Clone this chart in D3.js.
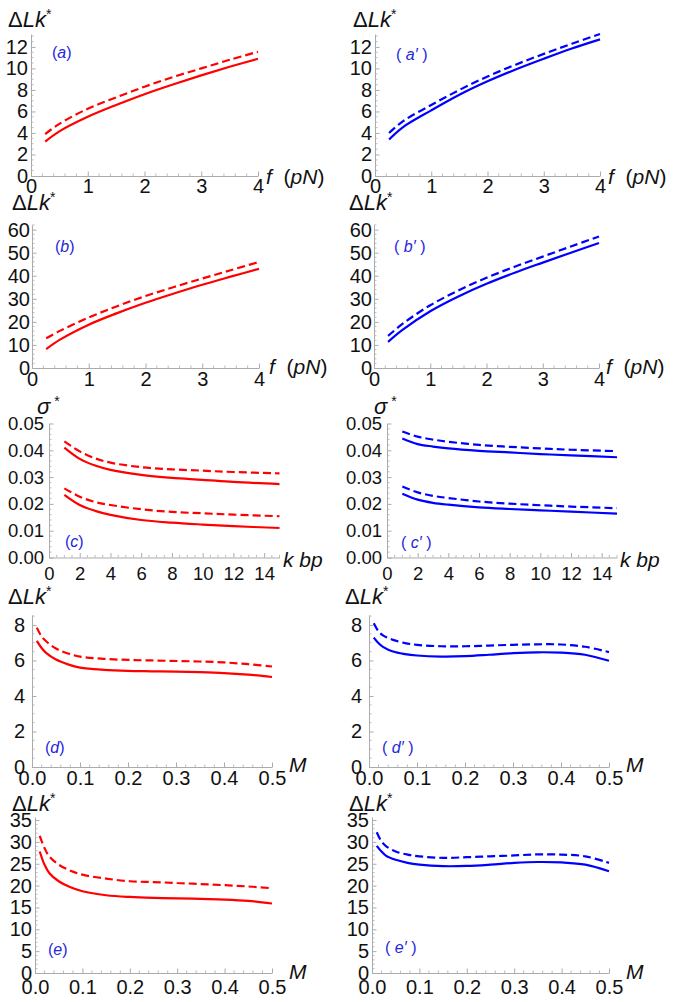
<!DOCTYPE html>
<html><head><meta charset="utf-8">
<script src="https://cdn.jsdelivr.net/npm/d3@7"></script>
<style>
body{margin:0;background:#fff}
text{font-family:"Liberation Sans",Arial,sans-serif}
</style>
</head><body>
<svg id="chart" width="674" height="1002"></svg>
<script>
// ---------- data ----------
const fVals = [0.25, 0.5, 1, 1.5, 2, 2.5, 3, 3.5, 4];
const aSolid  = [3.2, 4.15, 5.5, 6.6, 7.6, 8.5, 9.35, 10.15, 10.9];
const aDashed = [3.9, 4.85, 6.25, 7.3, 8.3, 9.2, 10.0, 10.8, 11.55];
const a2Solid  = [3.4, 4.55, 6.1, 7.55, 8.8, 9.9, 10.9, 11.85, 12.7];
const a2Dashed = [4.0, 5.1, 6.6, 8.0, 9.25, 10.35, 11.35, 12.3, 13.2];
const bSolid  = [8.2, 12.4, 18.8, 23.8, 28.3, 32.3, 36.1, 39.6, 43];
const bDashed = [12.9, 16.2, 21.9, 26.8, 31.2, 35.1, 38.8, 42.4, 46];
const b2Solid  = [11.3, 16.4, 24.6, 31, 36.5, 41.3, 45.7, 50, 54.2];
const b2Dashed = [13.9, 19, 27.2, 33.6, 39.1, 43.9, 48.3, 52.7, 57];

const kVals = [1, 2, 3, 4, 6, 8, 10, 12, 15];
const cUpDashed  = [0.0433, 0.0396, 0.0370, 0.0354, 0.0337, 0.0329, 0.0324, 0.0319, 0.0314];
const cUpSolid   = [0.0410, 0.0368, 0.0343, 0.0327, 0.0308, 0.0297, 0.0290, 0.0282, 0.0274];
const cLoDashed  = [0.0258, 0.0227, 0.0207, 0.0196, 0.0180, 0.0170, 0.0165, 0.0160, 0.0154];
const cLoSolid   = [0.0234, 0.0196, 0.0174, 0.0159, 0.0140, 0.0130, 0.0123, 0.0117, 0.0110];
const c2UpDashed = [0.0470, 0.0451, 0.0440, 0.0432, 0.0420, 0.0413, 0.0407, 0.0402, 0.0397];
const c2UpSolid  = [0.0444, 0.0423, 0.0414, 0.0407, 0.0398, 0.0392, 0.0386, 0.0381, 0.0374];
const c2LoDashed = [0.0265, 0.0243, 0.0230, 0.0222, 0.0209, 0.0201, 0.0195, 0.0190, 0.0184];
const c2LoSolid  = [0.0238, 0.0216, 0.0204, 0.0197, 0.0187, 0.0181, 0.0176, 0.0171, 0.0164];

const mVals = [0.01, 0.02, 0.03, 0.05, 0.075, 0.1, 0.15, 0.2, 0.25, 0.3, 0.35, 0.4, 0.45, 0.5];
const dSolid   = [7.1, 6.7, 6.41, 6.05, 5.78, 5.6, 5.47, 5.41, 5.39, 5.37, 5.34, 5.29, 5.2, 5.07];
const dDashed  = [7.85, 7.35, 7.07, 6.67, 6.39, 6.22, 6.09, 6.03, 6.0, 5.97, 5.94, 5.89, 5.79, 5.66];
const d2Solid  = [7.29, 6.97, 6.75, 6.5, 6.36, 6.28, 6.22, 6.24, 6.32, 6.41, 6.46, 6.44, 6.32, 5.98];
const d2Dashed = [8.09, 7.63, 7.4, 7.16, 6.98, 6.88, 6.8, 6.8, 6.84, 6.88, 6.91, 6.9, 6.77, 6.47];
const eSolid   = [27.8, 24.8, 22.9, 21.0, 19.6, 18.7, 17.8, 17.4, 17.2, 17.1, 16.95, 16.8, 16.5, 15.9];
const eDashed  = [31.4, 28.6, 26.7, 24.8, 23.4, 22.5, 21.6, 21.0, 20.8, 20.6, 20.35, 20.1, 19.8, 19.4];
const e2Solid  = [29.1, 27.8, 26.8, 25.9, 25.2, 24.8, 24.45, 24.5, 24.8, 25.2, 25.4, 25.3, 24.8, 23.3];
const e2Dashed = [32.2, 30.1, 29.0, 27.8, 27.1, 26.7, 26.35, 26.5, 26.7, 26.9, 27.15, 27.1, 26.7, 25.2];

// tick labels
const fTicks = [0, 1, 2, 3, 4];
const lkTicksA = [0, 2, 4, 6, 8, 10, 12];
const lkTicksB = [0, 10, 20, 30, 40, 50, 60];
const sigmaTicks = [0, 0.01, 0.02, 0.03, 0.04, 0.05];
const kTicks = [0, 2, 4, 6, 8, 10, 12, 14];
const mTicks = [0, 0.1, 0.2, 0.3, 0.4, 0.5];
const lkTicksD = [0, 2, 4, 6, 8];
const lkTicksE = [0, 5, 10, 15, 20, 25, 30, 35];

// ---------- layout / styling ----------
const RED = "#ff0000", BLUE = "#0000ff", LABEL_BLUE = "#2626dd", AXIS = "#ababab";
const svg = d3.select("#chart");

const intFmt = d => String(d);
const f2 = d => d.toFixed(2);
const f1 = d => d.toFixed(1);

const panels = [
  {lab:"a", prime:false, color:RED, xr:[31,258], yr:[176,34], xd:[0,4], yd:[0,13.2], xt:fTicks, xMin:0.2, yt:lkTicksA, yMin:0.5, xf:intFmt, yf:intFmt, xPad:3, yPad:3, fs:20,
   xs:fVals, series:[[aSolid,false],[aDashed,true]], ytitle:"lk", ytPos:[8,27], xtitle:"f", xtPos:[266,184], plPos:[52,58]},
  {lab:"a", prime:true, color:BLUE, xr:[375,600], yr:[176,34], xd:[0,4], yd:[0,13.2], xt:fTicks, xMin:0.2, yt:lkTicksA, yMin:0.5, xf:intFmt, yf:intFmt, xPad:3, yPad:3, fs:20,
   xs:fVals, series:[[a2Solid,false],[a2Dashed,true]], ytitle:"lk", ytPos:[353,27], xtitle:"f", xtPos:[608,184], plPos:[396,60]},
  {lab:"b", prime:false, color:RED, xr:[32,259], yr:[368,225], xd:[0,4], yd:[0,62], xt:fTicks, xMin:0.2, yt:lkTicksB, yMin:2, xf:intFmt, yf:intFmt, xPad:4, yPad:2, fs:20,
   xs:fVals, series:[[bSolid,false],[bDashed,true]], ytitle:"lk", ytPos:[12,210], xtitle:"f", xtPos:[269,374], plPos:[55,252]},
  {lab:"b", prime:true, color:BLUE, xr:[374,599], yr:[368,225], xd:[0,4], yd:[0,62], xt:fTicks, xMin:0.2, yt:lkTicksB, yMin:2, xf:intFmt, yf:intFmt, xPad:4, yPad:2, fs:20,
   xs:fVals, series:[[b2Solid,false],[b2Dashed,true]], ytitle:"lk", ytPos:[349,210], xtitle:"f", xtPos:[606,374], plPos:[394,252]},
  {lab:"c", prime:false, color:RED, xr:[49,279.5], yr:[557.5,423.5], xd:[0,15], yd:[0,0.05], xt:kTicks, xMin:0.5, yt:sigmaTicks, yMin:0.002, xf:intFmt, yf:f2, xPad:9, yPad:5, fs:18.5,
   xs:kVals, series:[[cUpSolid,false],[cUpDashed,true],[cLoSolid,false],[cLoDashed,true]], ytitle:"sigma", ytPos:[37,414], xtitle:"k", xtPos:[283,567], plPos:[65,547]},
  {lab:"c", prime:true, color:BLUE, xr:[387,617], yr:[557.5,423.5], xd:[0,15], yd:[0,0.05], xt:kTicks, xMin:0.5, yt:sigmaTicks, yMin:0.002, xf:intFmt, yf:f2, xPad:9, yPad:5, fs:18.5,
   xs:kVals, series:[[c2UpSolid,false],[c2UpDashed,true],[c2LoSolid,false],[c2LoDashed,true]], ytitle:"sigma", ytPos:[374,414], xtitle:"k", xtPos:[620,567], plPos:[401,548]},
  {lab:"d", prime:false, color:RED, xr:[32,272], yr:[767,615], xd:[0,0.5], yd:[0,8.56], xt:mTicks, xMin:0.02, yt:lkTicksD, yMin:0.5, xf:f1, yf:intFmt, xPad:4, yPad:7, fs:20,
   xs:mVals, series:[[dSolid,false],[dDashed,true]], ytitle:"lk", ytPos:[8,604], xtitle:"M", xtPos:[289,772], plPos:[45,753]},
  {lab:"d", prime:true, color:BLUE, xr:[369,609], yr:[767,615], xd:[0,0.5], yd:[0,8.56], xt:mTicks, xMin:0.02, yt:lkTicksD, yMin:0.5, xf:f1, yf:intFmt, xPad:4, yPad:7, fs:20,
   xs:mVals, series:[[d2Solid,false],[d2Dashed,true]], ytitle:"lk", ytPos:[345,604], xtitle:"M", xtPos:[626,772], plPos:[382,753]},
  {lab:"e", prime:false, color:RED, xr:[35,272], yr:[973,817], xd:[0,0.5], yd:[0,35.7], xt:mTicks, xMin:0.02, yt:lkTicksE, yMin:1, xf:f1, yf:intFmt, xPad:6.5, yPad:3, fs:20,
   xs:mVals, series:[[eSolid,false],[eDashed,true]], ytitle:"lk", ytPos:[12,811], xtitle:"M", xtPos:[289,979], plPos:[48,955]},
  {lab:"e", prime:true, color:BLUE, xr:[372,609], yr:[973,817], xd:[0,0.5], yd:[0,35.7], xt:mTicks, xMin:0.02, yt:lkTicksE, yMin:1, xf:f1, yf:intFmt, xPad:6.5, yPad:3, fs:20,
   xs:mVals, series:[[e2Solid,false],[e2Dashed,true]], ytitle:"lk", ytPos:[349,811], xtitle:"M", xtPos:[626,979], plPos:[385,953]}
];

function seg(t, parts){ // parts: [text, italic, opts]
  parts.forEach(([s, it, o]) => {
    const ts = t.append("tspan").text(s);
    if (it) ts.attr("font-style","italic");
    if (o && o.sup) ts.attr("baseline-shift","super").attr("font-size", o.sup);
  });
}

function drawPanel(p){
  const x = d3.scaleLinear().domain(p.xd).range(p.xr);
  const y = d3.scaleLinear().domain(p.yd).range(p.yr);
  const g = svg.append("g");
  const y0 = y(0), x0 = x(0);

  // minor ticks
  const xMinor = d3.range(p.xd[0], p.xd[1] + 1e-9, p.xMin).filter(v => !p.xt.some(t => Math.abs(t - v) < 1e-9));
  g.selectAll(null).data(xMinor).join("line")
    .attr("x1", d => x(d)).attr("x2", d => x(d)).attr("y1", y0).attr("y2", y0 - 2.5)
    .attr("stroke", AXIS).attr("stroke-width", 0.8);
  const yMinor = d3.range(p.yd[0], p.yd[1] + 1e-9, p.yMin).filter(v => !p.yt.some(t => Math.abs(t - v) < 1e-9));
  g.selectAll(null).data(yMinor).join("line")
    .attr("y1", d => y(d)).attr("y2", d => y(d)).attr("x1", x0).attr("x2", x0 + 2.5)
    .attr("stroke", AXIS).attr("stroke-width", 0.8);

  // axes
  const xa = g.append("g").attr("transform", `translate(0,${y0})`)
    .call(d3.axisBottom(x).tickValues(p.xt).tickFormat(p.xf).tickSize(-4.5).tickSizeOuter(0).tickPadding(p.xPad));
  const ya = g.append("g").attr("transform", `translate(${x0},0)`)
    .call(d3.axisLeft(y).tickValues(p.yt).tickFormat(p.yf).tickSize(-4.5).tickSizeOuter(0).tickPadding(p.yPad));
  [xa, ya].forEach(a => {
    a.attr("font-family", null).attr("font-size", p.fs);
    a.select(".domain").attr("stroke", AXIS).attr("stroke-width", 1);
    a.selectAll(".tick line").attr("stroke", AXIS).attr("stroke-width", 1);
    a.selectAll(".tick text").attr("fill", "#111");
  });

  // curves
  const line = d3.line().x((d, i) => x(p.xs[i])).y(d => y(d)).curve(d3.curveCatmullRom.alpha(0.5));
  p.series.forEach(([vals, dashed]) => {
    g.append("path").attr("d", line(vals)).attr("fill", "none")
      .attr("stroke", p.color).attr("stroke-width", 2.2)
      .attr("stroke-dasharray", dashed ? "8,4" : null);
  });

  // y title
  const yt = g.append("text").attr("x", p.ytPos[0]).attr("y", p.ytPos[1]).attr("font-size", 22).attr("fill", "#111");
  if (p.ytitle === "lk") seg(yt, [["Δ", false], ["Lk", true], ["*", false, {sup: 14}]]);
  else seg(yt, [["σ", true], [" *", false, {sup: 14}]]);

  // x title
  const xt = g.append("text").attr("x", p.xtPos[0]).attr("y", p.xtPos[1]).attr("font-size", 21)
    .attr("fill", "#111").style("white-space", "pre");
  if (p.xtitle === "f") seg(xt, [["f", true], ["  (", false], ["pN", true], [")", false]]);
  else if (p.xtitle === "k") seg(xt, [["k", true], [" ", false], ["bp", true]]);
  else seg(xt, [["M", true]]);

  // panel label
  const pl = g.append("text").attr("x", p.plPos[0]).attr("y", p.plPos[1]).attr("font-size", 16)
    .attr("fill", LABEL_BLUE).style("white-space", "pre");
  if (p.prime) seg(pl, [["( ", false], [p.lab + "′", true], [" )", false]]);
  else seg(pl, [["(", false], [p.lab, true], [")", false]]);
}

panels.forEach(drawPanel);
</script>
</body></html>
